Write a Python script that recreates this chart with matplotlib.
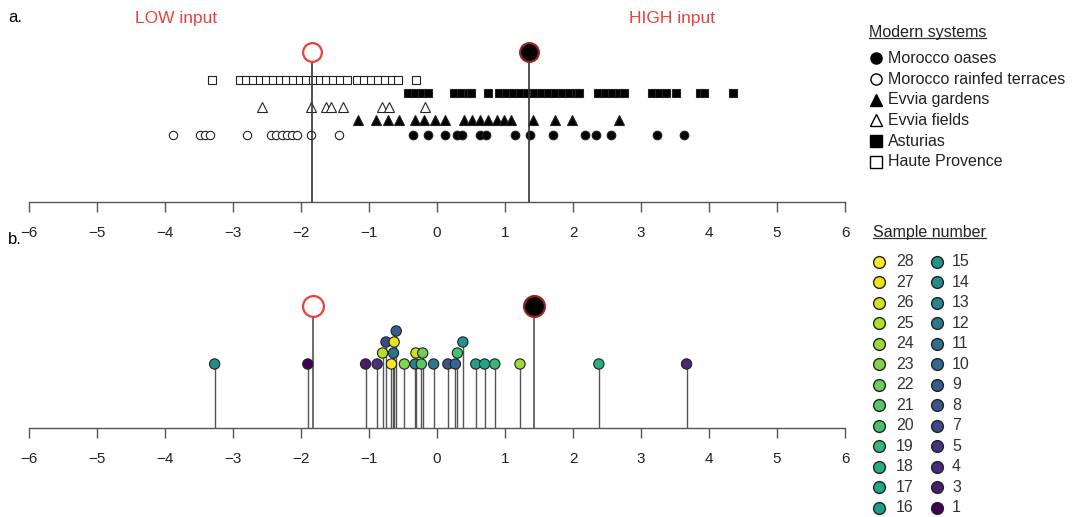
import matplotlib
matplotlib.use("Agg")
import matplotlib.pyplot as plt
from matplotlib.lines import Line2D
from matplotlib import colors as mcolors

plt.rcParams['font.family'] = ['Liberation Sans', 'DejaVu Sans']

# ---- panel a: modern systems, discriminant score of each sample
morocco_oases = [-0.35, -0.13, 0.12, 0.29, 0.37, 0.63, 0.72, 1.15, 1.37, 1.71,
                 2.18, 2.34, 2.56, 3.24, 3.63]
morocco_terraces = [-3.88, -3.49, -3.41, -3.34, -2.79, -2.44, -2.37, -2.28, -2.21,
                    -2.13, -2.06, -1.85, -1.44]
evvia_gardens = [-1.16, -0.90, -0.72, -0.56, -0.32, -0.19, -0.03, 0.12, 0.40, 0.51,
                 0.63, 0.75, 0.88, 0.99, 1.09, 1.41, 1.74, 1.99, 2.68]
evvia_fields = [-2.57, -1.85, -1.63, -1.56, -1.38, -0.81, -0.71, -0.18]
asturias = [-0.43, -0.32, -0.22, -0.13, 0.25, 0.35, 0.46, 0.50, 0.75, 0.91, 1.01,
            1.12, 1.22, 1.32, 1.43, 1.53, 1.63, 1.74, 1.84, 1.94, 2.04, 2.09, 2.37,
            2.47, 2.57, 2.68, 2.75, 3.16, 3.26, 3.37, 3.51, 3.87, 3.93, 4.35]
haute_provence = [-3.31, -2.90, -2.81, -2.71, -2.60, -2.51, -2.41, -2.31, -2.22,
                  -2.12, -2.01, -1.93, -1.82, -1.72, -1.63, -1.53, -1.43, -1.32,
                  -1.18, -1.07, -0.97, -0.87, -0.76, -0.66, -0.57, -0.31]
low_mean_a = -1.84
high_mean_a = 1.36

# ---- panel b: archaeobotanical samples
sample_no = [14, 1, 3, 5, 25, 7, 28, 11, 27, 9, 23, 13, 26, 21, 22, 12, 8, 10, 20,
             15, 16, 17, 19, 24, 18, 4]
sample_score = [-3.27, -1.90, -1.05, -0.88, -0.80, -0.75, -0.67, -0.64, -0.63, -0.60,
                -0.48, -0.32, -0.31, -0.23, -0.21, -0.05, 0.16, 0.27, 0.30, 0.38,
                0.57, 0.70, 0.85, 1.22, 2.38, 3.67]
sample_stack = [1, 1, 1, 1, 2, 3, 1, 2, 3, 4, 1, 1, 2, 1, 2, 1, 1, 1, 2, 3, 1, 1, 1,
                1, 1, 1]
low_mean_b = -1.82
high_mean_b = 1.43

legend_left = [28, 27, 26, 25, 24, 23, 22, 21, 20, 19, 18, 17, 16]
legend_right = [15, 14, 13, 12, 11, 10, 9, 8, 7, 5, 4, 3, 1]

W, H = 1074, 517
RED = '#e8413c'
AXC = '#555555'
cmap = plt.get_cmap('viridis')
norm = mcolors.Normalize(1, 28)

fig = plt.figure(figsize=(W / 100, H / 100), dpi=100)


def fx(px):
    return px / W


def fy(py):
    return 1 - py / H


def style_axis(ax, top):
    ax.set_xlim(-6, 6)
    ax.set_ylim(0, top)
    for s in ['top', 'right', 'left']:
        ax.spines[s].set_visible(False)
    ax.spines['bottom'].set_color(AXC)
    ax.spines['bottom'].set_linewidth(1.0)
    ax.set_yticks([])
    ax.set_xticks(range(-6, 7))
    ax.tick_params(axis='x', length=7, width=1, color=AXC, pad=10,
                   labelsize=11, labelcolor='#222222')
    ax.patch.set_visible(False)


# panel a (y in pixels above the axis line)
ax_a = fig.add_axes([fx(29), fy(202), (845 - 29) / W, 170 / H])
style_axis(ax_a, 170)

rows = [
    (haute_provence, 122, 's', 5.6, 'white'),
    (asturias, 109, 's', 6.2, 'black'),
    (evvia_fields, 95, '^', 7.0, 'white'),
    (evvia_gardens, 82, '^', 7.0, 'black'),
    (morocco_terraces, 67, 'o', 6.0, 'white'),
    (morocco_oases, 67, 'o', 6.2, 'black'),
]
for vals, yy, mk, ms, fc in rows:
    ax_a.plot(vals, [yy] * len(vals), ls='none', marker=mk, ms=ms, mfc=fc,
              mec='#222222', mew=0.8, clip_on=False, zorder=2)

for m, fc, ec in [(low_mean_a, 'white', RED), (high_mean_a, 'black', '#9b2525')]:
    ax_a.plot([m, m], [0, 150], color='#333333', lw=1.2, zorder=3)
    ax_a.plot([m], [150], marker='o', ms=13.5, mfc=fc, mec=ec, mew=1.6,
              clip_on=False, zorder=4)

# panel b
ax_b = fig.add_axes([fx(29), fy(428), (845 - 29) / W, 140 / H])
style_axis(ax_b, 140)
heights = [64 + 11 * (s - 1) for s in sample_stack]
ax_b.vlines(sample_score, 0, heights, color='#555555', lw=1.0, zorder=1)
ax_b.scatter(sample_score, heights, s=55, c=[cmap(norm(n)) for n in sample_no],
             edgecolors='#222222', linewidths=0.8, zorder=3, clip_on=False)
for m, fc, ec in [(low_mean_b, 'white', RED), (high_mean_b, 'black', '#9b2525')]:
    ax_b.plot([m, m], [0, 122], color='#555555', lw=1.2, zorder=1)
    ax_b.plot([m], [122], marker='o', ms=15, mfc=fc, mec=ec, mew=1.6,
              clip_on=False, zorder=4)

# labels
fig.text(fx(8), fy(18), 'a.', fontsize=12, va='center', ha='left')
fig.text(fx(8), fy(240), 'b.', fontsize=12, va='center', ha='left')
fig.text(fx(176), fy(18), 'LOW input', fontsize=12.5, color=RED, va='center', ha='center')
fig.text(fx(672), fy(18), 'HIGH input', fontsize=12.5, color=RED, va='center', ha='center')

# legend: modern systems
titles = []
titles.append(fig.text(fx(869), fy(33), 'Modern systems', fontsize=11.5,
                       va='center', ha='left', color='#222222'))
leg_items = [('o', 'black', 'Morocco oases'),
             ('o', 'white', 'Morocco rainfed terraces'),
             ('^', 'black', 'Evvia gardens'),
             ('^', 'white', 'Evvia fields'),
             ('s', 'black', 'Asturias'),
             ('s', 'white', 'Haute Provence')]
for i, (mk, fc, lab) in enumerate(leg_items):
    yy = 58.3 + 20.7 * i
    fig.add_artist(Line2D([fx(876)], [fy(yy)], transform=fig.transFigure, ls='none',
                          marker=mk, ms=8, mfc=fc, mec='black', mew=1.0))
    fig.text(fx(888), fy(yy), lab, fontsize=11.5, va='center', ha='left',
             color='#222222')

# legend: sample number
titles.append(fig.text(fx(873), fy(233), 'Sample number', fontsize=11.5,
                       va='center', ha='left', color='#222222'))
for col, (nums, mx, tx) in enumerate([(legend_left, 879, 896),
                                       (legend_right, 937, 952)]):
    for i, n in enumerate(nums):
        yy = 261.7 + 20.5 * i
        fig.add_artist(Line2D([fx(mx)], [fy(yy)], transform=fig.transFigure,
                              ls='none', marker='o', ms=8.5,
                              mfc=cmap(norm(n)), mec='#222222', mew=1.0))
        fig.text(fx(tx), fy(yy), str(n), fontsize=11.5, va='center', ha='left',
                 color='#333333')

# underline legend titles
fig.canvas.draw()
renderer = fig.canvas.get_renderer()
for t in titles:
    bb = t.get_window_extent(renderer).transformed(fig.transFigure.inverted())
    fig.add_artist(Line2D([bb.x0, bb.x1], [bb.y0 + 0.004, bb.y0 + 0.004],
                          transform=fig.transFigure, color='#333333', lw=0.9))

fig.savefig('out.png', dpi=100)
